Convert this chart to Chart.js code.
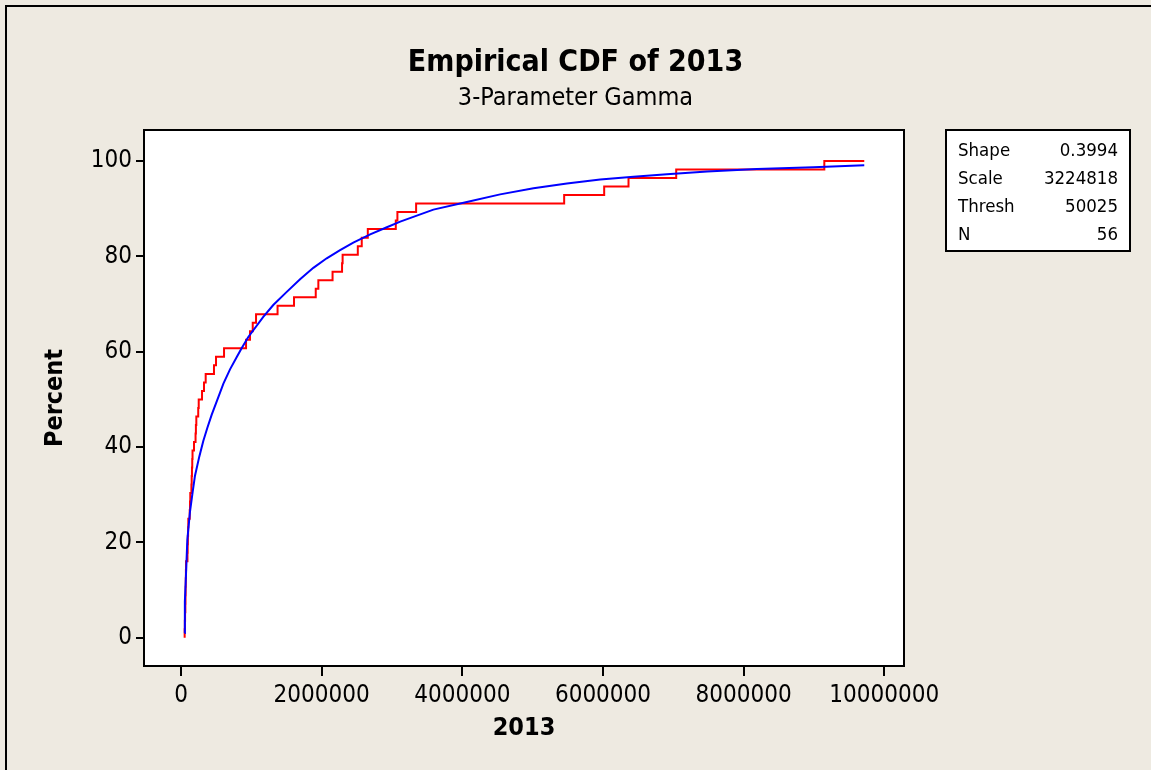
<!DOCTYPE html>
<html><head><meta charset="utf-8">
<script src="https://cdn.jsdelivr.net/npm/chart.js@4"></script>
<style>
html,body{margin:0;padding:0;background:#EEEAE1;}
#wrap{width:1151px;height:770px;position:relative;}
</style>
</head><body><div id="wrap"><canvas id="c" width="1151" height="770"></canvas></div>
<script>
// ---- data ----
const observations = [52000, 55000, 58000, 62000, 64000, 66000, 68000, 70000, 72000,
  92000, 95000, 98000, 101000, 104000, 124000, 128000, 132000,
  148000, 152000, 156000, 160000, 164000, 185000, 207000, 212000, 218000,
  245000, 252000, 299000, 327000, 351000, 469000, 498000, 612000,
  925000, 981000, 1020000, 1067000, 1373000, 1607000, 1916000, 1953000,
  2155000, 2290000, 2298000, 2514000, 2570000, 2656000, 3054000, 3077000,
  3343000, 5448000, 6017000, 6363000, 7041000, 9147000];
const ecdfEndX = 9715000;
const fitX = [51000, 55000, 68000, 90000, 128000, 166000, 199000, 260000, 317000, 374000,
  437000, 531000, 603000, 697000, 793000, 864000, 957000, 1170000, 1312000, 1500000,
  1693000, 1882000, 2072000, 2262000, 2450000, 2690000, 2927000, 3117000, 3589000, 4064000,
  4538000, 5012000, 5487000, 5960000, 6434000, 6909000, 7482000, 8189000, 8990000, 9715000];
const fitPercent = [1.0, 7.6, 12.2, 20.5, 26.5, 30.6, 34.0, 38.0, 41.3, 44.0,
  46.8, 50.5, 53.3, 56.3, 58.9, 60.8, 63.1, 67.3, 69.8, 72.5,
  75.2, 77.6, 79.6, 81.3, 82.9, 84.6, 86.1, 87.3, 89.8, 91.4,
  93.0, 94.3, 95.3, 96.1, 96.7, 97.2, 97.8, 98.3, 98.7, 99.1];
const xTickValues = [0, 2000000, 4000000, 6000000, 8000000, 10000000];
const yTickValues = [0, 20, 40, 60, 80, 100];
const statsLabels = ['Shape', 'Scale', 'Thresh', 'N'];
const statsValues = ['0.3994', '3224818', '50025', '56'];

// ---- build datasets ----
const N = observations.length;
const ecdfData = [{x: observations[0], y: 0}];
observations.forEach((v, i) => ecdfData.push({x: v, y: (i + 1) / N * 100}));
ecdfData.push({x: ecdfEndX, y: 100});
const fitData = fitX.map((x, i) => ({x: x, y: fitPercent[i]}));

const FAM = "'DejaVu Sans Condensed', 'DejaVu Sans', sans-serif";
const BG = '#EEEAE1';

const framePlugin = {
  id: 'frame',
  beforeDraw(chart) {
    const {ctx, chartArea: a} = chart;
    ctx.save();
    ctx.fillStyle = BG;
    ctx.fillRect(0, 0, chart.width, chart.height);
    ctx.fillStyle = '#FFFFFF';
    ctx.fillRect(a.left, a.top, a.right - a.left, a.bottom - a.top);
    ctx.strokeStyle = '#000';
    ctx.lineWidth = 2;
    ctx.beginPath();
    ctx.moveTo(6, chart.height);
    ctx.lineTo(6, 6);
    ctx.lineTo(chart.width, 6);
    ctx.stroke();
    ctx.restore();
  },
  afterDatasetsDraw(chart) {
    const {ctx, chartArea: a} = chart;
    ctx.save();
    ctx.strokeStyle = '#000';
    ctx.lineWidth = 2;
    ctx.strokeRect(a.left, a.top, a.right - a.left, a.bottom - a.top);
    // stats box
    const bx = a.right + 42, by = a.top, bw = 184, bh = 121;
    ctx.fillStyle = '#FFFFFF';
    ctx.fillRect(bx, by, bw, bh);
    ctx.strokeRect(bx, by, bw, bh);
    ctx.fillStyle = '#000';
    ctx.font = '18.5px ' + FAM;
    ctx.textBaseline = 'middle';
    statsLabels.forEach((lab, i) => {
      const y = by + 21 + i * 28;
      ctx.textAlign = 'left';
      ctx.fillText(lab, bx + 12, y);
      ctx.textAlign = 'right';
      ctx.fillText(statsValues[i], bx + bw - 12, y);
    });
    ctx.restore();
  }
};

new Chart(document.getElementById('c'), {
  type: 'line',
  data: {
    datasets: [
      {label: 'Fit', data: fitData, borderColor: '#0000FF', borderWidth: 2,
       pointRadius: 0, tension: 0, fill: false},
      {label: 'ECDF', data: ecdfData, borderColor: '#FF0000', borderWidth: 2,
       pointRadius: 0, stepped: 'before', fill: false}
    ]
  },
  options: {
    responsive: false,
    animation: false,
    layout: {padding: {left: 0, right: 0, top: 0, bottom: 0}},
    plugins: {
      legend: {display: false},
      tooltip: {enabled: false},
      title: {display: true, text: 'Empirical CDF of 2013', color: '#000',
        font: {family: FAM, size: 30, weight: 'bold', lineHeight: 1.2},
        padding: {top: 45, bottom: 0}},
      subtitle: {display: true, text: '3-Parameter Gamma', color: '#000',
        font: {family: FAM, size: 25, weight: 'normal', lineHeight: 1.2},
        padding: {top: 2, bottom: 17}}
    },
    scales: {
      x: {
        type: 'linear', min: -526000, max: 10280000,
        afterBuildTicks: s => { s.ticks = xTickValues.map(v => ({value: v})); },
        afterFit: s => { s.height = 104; },
        ticks: {color: '#000', font: {family: FAM, size: 24}, padding: 5,
          maxRotation: 0, autoSkip: false, callback: v => String(v)},
        grid: {display: true, drawOnChartArea: false, drawTicks: true, tickLength: 10,
          color: '#000', lineWidth: 2},
        border: {display: false},
        title: {display: true, text: '2013', color: '#000',
          font: {family: FAM, size: 25, weight: 'bold', lineHeight: 1.2},
          padding: {top: 0, bottom: 27}}
      },
      y: {
        type: 'linear', min: -5.9, max: 106.5,
        afterBuildTicks: s => { s.ticks = yTickValues.map(v => ({value: v})); },
        afterFit: s => { s.width = 144; },
        ticks: {color: '#000', font: {family: FAM, size: 24}, padding: 4,
          autoSkip: false, callback: v => String(v)},
        grid: {display: true, drawOnChartArea: false, drawTicks: true, tickLength: 8,
          color: '#000', lineWidth: 2},
        border: {display: false},
        title: {display: true, text: 'Percent', color: '#000',
          font: {family: FAM, size: 25, weight: 'bold', lineHeight: 1.2},
          padding: {top: 40, bottom: 0}}
      },
      yRight: {
        type: 'linear', position: 'right', display: true, min: 0, max: 1,
        afterFit: s => { s.width = 247; },
        ticks: {display: false},
        grid: {display: false, drawTicks: false},
        border: {display: false},
        title: {display: false}
      }
    }
  },
  plugins: [framePlugin]
});
</script>
</body></html>
